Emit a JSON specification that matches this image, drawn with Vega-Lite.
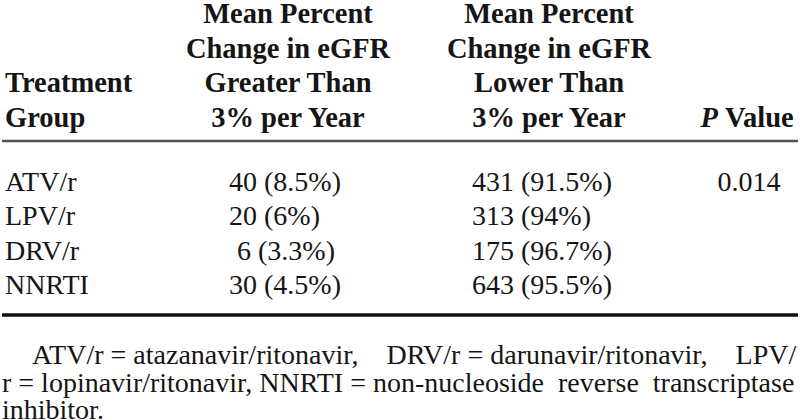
{
  "$schema": "https://vega.github.io/schema/vega-lite/v6.json",
  "width": 800,
  "height": 420,
  "autosize": {"type": "fit", "contains": "padding"},
  "padding": 0,
  "background": "white",
  "config": {"view": {"stroke": null}, "text": {"font": "Liberation Serif", "color": "#151515", "baseline": "alphabetic"}},
  "datasets": {
    "header": [
      {"col": 1, "line": 3, "text": "Treatment"},
      {"col": 1, "line": 4, "text": "Group"},
      {"col": 2, "line": 1, "text": "Mean Percent"},
      {"col": 2, "line": 2, "text": "Change in eGFR"},
      {"col": 2, "line": 3, "text": "Greater Than"},
      {"col": 2, "line": 4, "text": "3% per Year"},
      {"col": 3, "line": 1, "text": "Mean Percent"},
      {"col": 3, "line": 2, "text": "Change in eGFR"},
      {"col": 3, "line": 3, "text": "Lower Than"},
      {"col": 3, "line": 4, "text": "3% per Year"},
      {"col": 4, "line": 4, "text": "P"},
      {"col": 4, "line": 4, "text": "Value"}
    ],
    "body": [
      {"group": "ATV/r", "gt": "40 (8.5%)", "lt": "431 (91.5%)", "p": "0.014"},
      {"group": "LPV/r", "gt": "20 (6%)", "lt": "313 (94%)", "p": ""},
      {"group": "DRV/r", "gt": "6 (3.3%)", "lt": "175 (96.7%)", "p": ""},
      {"group": "NNRTI", "gt": "30 (4.5%)", "lt": "643 (95.5%)", "p": ""}
    ],
    "rules": [{"rule": "top"}, {"rule": "bottom"}],
    "notes": [
      {"line": 1, "text": "ATV/r\u00a0=\u00a0atazanavir/ritonavir,\u00a0\u00a0\u00a0\u00a0DRV/r\u00a0=\u00a0darunavir/ritonavir,\u00a0\u00a0\u00a0\u00a0LPV/"},
      {"line": 2, "text": "r\u00a0=\u00a0lopinavir/ritonavir,\u00a0NNRTI\u00a0=\u00a0non-nucleoside\u00a0\u00a0reverse\u00a0\u00a0transcriptase"},
      {"line": 3, "text": "inhibitor."}
    ]
  },
  "layer": [
    {
      "data": {"name": "header"},
      "transform": [{"filter": "datum.col === 1"}],
      "mark": {"type": "text", "align": "left", "fontWeight": "bold", "fontSize": 28.5},
      "encoding": {
        "x": {"field": "col", "type": "quantitative", "axis": null, "scale": {"domain": [1, 2, 3, 4], "range": [3, 286, 547, 719]}},
        "y": {"field": "line", "type": "quantitative", "axis": null, "scale": {"domain": [1, 4], "range": [23, 127]}},
        "text": {"field": "text"}
      }
    },
    {
      "data": {"name": "header"},
      "transform": [{"filter": "datum.col === 2 || datum.col === 3"}],
      "mark": {"type": "text", "align": "center", "fontWeight": "bold", "fontSize": 28.5},
      "encoding": {
        "x": {"field": "col", "type": "quantitative", "axis": null, "scale": {"domain": [1, 2, 3, 4], "range": [3, 286, 547, 719]}},
        "y": {"field": "line", "type": "quantitative", "axis": null, "scale": {"domain": [1, 4], "range": [23, 127]}},
        "text": {"field": "text"}
      }
    },
    {
      "data": {"name": "header"},
      "transform": [{"filter": "datum.col === 4 && datum.text === 'P'"}],
      "mark": {"type": "text", "align": "right", "fontWeight": "bold", "fontStyle": "italic", "fontSize": 28.5, "dx": -3},
      "encoding": {
        "x": {"field": "col", "type": "quantitative", "axis": null, "scale": {"domain": [1, 2, 3, 4], "range": [3, 286, 547, 719]}},
        "y": {"field": "line", "type": "quantitative", "axis": null, "scale": {"domain": [1, 4], "range": [23, 127]}},
        "text": {"field": "text"}
      }
    },
    {
      "data": {"name": "header"},
      "transform": [{"filter": "datum.col === 4 && datum.text === 'Value'"}],
      "mark": {"type": "text", "align": "left", "fontWeight": "bold", "fontSize": 28.5, "dx": 4},
      "encoding": {
        "x": {"field": "col", "type": "quantitative", "axis": null, "scale": {"domain": [1, 2, 3, 4], "range": [3, 286, 547, 719]}},
        "y": {"field": "line", "type": "quantitative", "axis": null, "scale": {"domain": [1, 4], "range": [23, 127]}},
        "text": {"field": "text"}
      }
    },
    {
      "data": {"name": "body"},
      "mark": {"type": "text", "align": "left", "fontSize": 28},
      "encoding": {
        "x": {"datum": 1, "type": "quantitative", "axis": null, "scale": {"domain": [1, 2, 3, 4], "range": [3, 227, 470, 747]}},
        "y": {"field": "group", "type": "ordinal", "axis": null, "scale": {"type": "point", "domain": ["ATV/r", "LPV/r", "DRV/r", "NNRTI"], "range": [191, 294], "padding": 0}},
        "text": {"field": "group"}
      }
    },
    {
      "data": {"name": "body"},
      "transform": [{"filter": "datum.group !== 'DRV/r'"}],
      "mark": {"type": "text", "align": "left", "fontSize": 28},
      "encoding": {
        "x": {"datum": 2, "type": "quantitative", "axis": null, "scale": {"domain": [1, 2, 3, 4], "range": [3, 227, 470, 747]}},
        "y": {"field": "group", "type": "ordinal", "axis": null, "scale": {"type": "point", "domain": ["ATV/r", "LPV/r", "DRV/r", "NNRTI"], "range": [191, 294], "padding": 0}},
        "text": {"field": "gt"}
      }
    },
    {
      "data": {"name": "body"},
      "transform": [{"filter": "datum.group === 'DRV/r'"}],
      "mark": {"type": "text", "align": "left", "fontSize": 28, "dx": 8},
      "encoding": {
        "x": {"datum": 2, "type": "quantitative", "axis": null, "scale": {"domain": [1, 2, 3, 4], "range": [3, 227, 470, 747]}},
        "y": {"field": "group", "type": "ordinal", "axis": null, "scale": {"type": "point", "domain": ["ATV/r", "LPV/r", "DRV/r", "NNRTI"], "range": [191, 294], "padding": 0}},
        "text": {"field": "gt"}
      }
    },
    {
      "data": {"name": "body"},
      "mark": {"type": "text", "align": "left", "fontSize": 28},
      "encoding": {
        "x": {"datum": 3, "type": "quantitative", "axis": null, "scale": {"domain": [1, 2, 3, 4], "range": [3, 227, 470, 747]}},
        "y": {"field": "group", "type": "ordinal", "axis": null, "scale": {"type": "point", "domain": ["ATV/r", "LPV/r", "DRV/r", "NNRTI"], "range": [191, 294], "padding": 0}},
        "text": {"field": "lt"}
      }
    },
    {
      "data": {"name": "body"},
      "mark": {"type": "text", "align": "center", "fontSize": 28},
      "encoding": {
        "x": {"datum": 4, "type": "quantitative", "axis": null, "scale": {"domain": [1, 2, 3, 4], "range": [3, 227, 470, 747]}},
        "y": {"field": "group", "type": "ordinal", "axis": null, "scale": {"type": "point", "domain": ["ATV/r", "LPV/r", "DRV/r", "NNRTI"], "range": [191, 294], "padding": 0}},
        "text": {"field": "p"}
      }
    },
    {
      "data": {"name": "rules"},
      "transform": [{"filter": "datum.rule === 'top'"}],
      "mark": {"type": "rule", "color": "#555555", "strokeWidth": 2.5},
      "encoding": {
        "y": {"field": "rule", "type": "nominal", "axis": null, "scale": {"type": "point", "domain": ["top", "bottom"], "range": [141, 315], "padding": 0}}
      }
    },
    {
      "data": {"name": "rules"},
      "transform": [{"filter": "datum.rule === 'bottom'"}],
      "mark": {"type": "rule", "color": "#111111", "strokeWidth": 3.5},
      "encoding": {
        "y": {"field": "rule", "type": "nominal", "axis": null, "scale": {"type": "point", "domain": ["top", "bottom"], "range": [141, 315], "padding": 0}}
      }
    },
    {
      "data": {"name": "notes"},
      "mark": {"type": "text", "align": "left", "fontSize": 28},
      "encoding": {
        "x": {"field": "line", "type": "quantitative", "axis": null, "scale": {"domain": [1, 2, 3], "range": [30, 0, 0]}},
        "y": {"field": "line", "type": "quantitative", "axis": null, "scale": {"domain": [1, 3], "range": [364, 419]}},
        "text": {"field": "text"}
      }
    }
  ],
  "resolve": {"scale": {"x": "independent", "y": "independent"}}
}
